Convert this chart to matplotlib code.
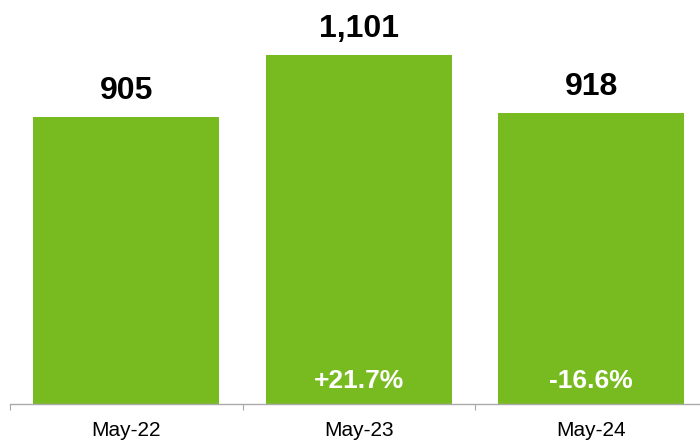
import matplotlib
matplotlib.use("Agg")
import matplotlib.pyplot as plt

categories = ["May-22", "May-23", "May-24"]
values = [905, 1101, 918]
value_labels = ["905", "1,101", "918"]
change_labels = ["", "+21.7%", "-16.6%"]

plt.rcParams['font.family'] = ['Liberation Sans', 'DejaVu Sans']

DPI = 100
fig = plt.figure(figsize=(7.0, 4.43), dpi=DPI)
W, H = 700, 443
left_px, right_px = 10, 707.5
bottom_px = 404
ax = fig.add_axes([left_px / W, (H - bottom_px) / H, (right_px - left_px) / W, bottom_px / H])

green = "#78bb21"
x = list(range(len(categories)))
bars = ax.bar(x, values, width=0.8, color=green, zorder=2)

ax.set_xlim(-0.5, len(categories) - 0.5)
ax.set_ylim(0, 1274.5)

for xi, v, lab in zip(x, values, value_labels):
    ax.annotate(lab, xy=(xi, v), xytext=(0, 13), textcoords="offset points",
                ha="center", va="baseline", fontsize=23, fontweight="bold", color="black")

for xi, lab in zip(x, change_labels):
    if lab:
        ax.annotate(lab, xy=(xi, 0), xytext=(0, 11.5), textcoords="offset points",
                    ha="center", va="baseline", fontsize=19, fontweight="bold", color="white")

for s in ["top", "right", "left"]:
    ax.spines[s].set_visible(False)
ax.spines["bottom"].set_color("#aaaaaa")
ax.spines["bottom"].set_linewidth(1.0)
ax.set_yticks([])

ax.set_xticks([-0.5, 0.5, 1.5, 2.5], minor=False)
ax.set_xticklabels([])
ax.tick_params(axis="x", which="major", length=4.5, width=0.8, color="#aaaaaa", direction="out")
ax.set_xticks(x, minor=True)
ax.set_xticklabels(categories, minor=True)
ax.tick_params(axis="x", which="minor", length=0, pad=12.5, labelsize=15, labelcolor="black")

fig.savefig("out.png", dpi=DPI)
